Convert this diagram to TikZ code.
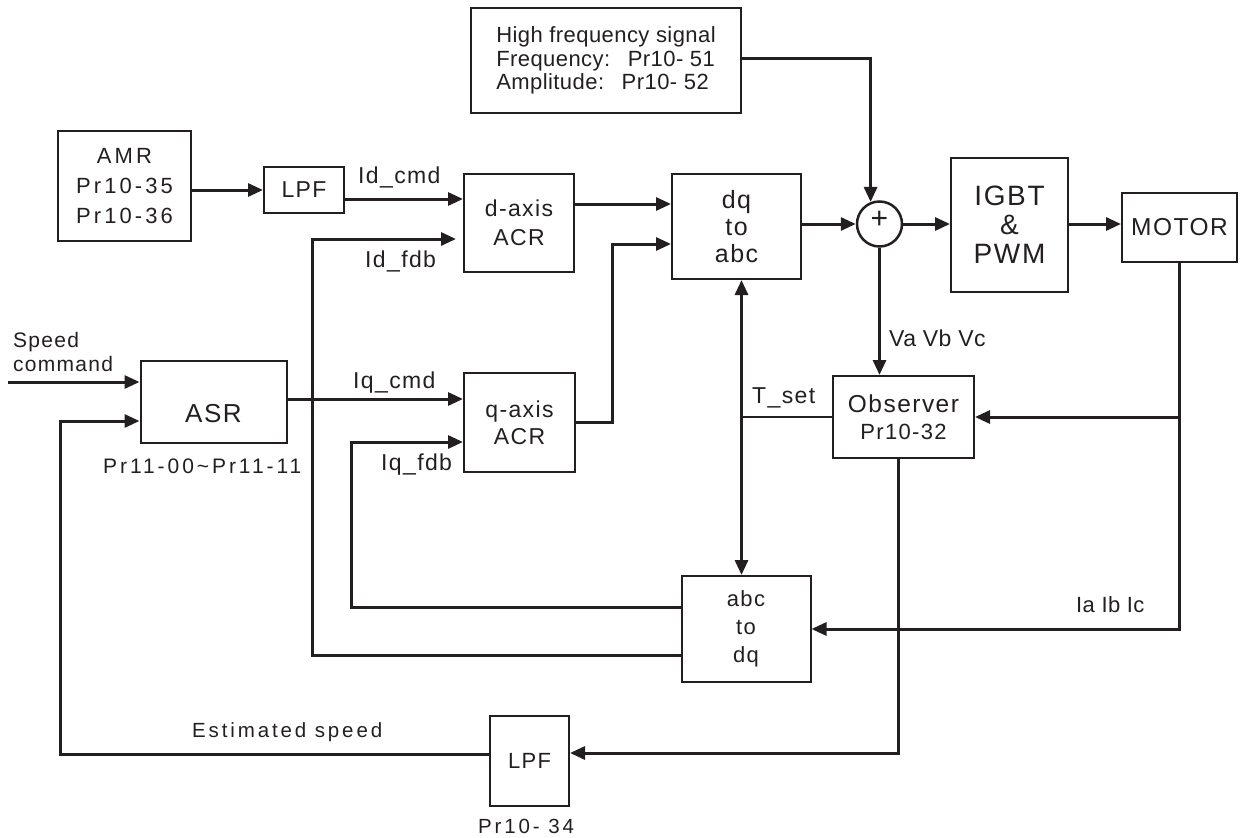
\documentclass[tikz,border=0pt]{standalone}
\usepackage{fontspec}
\setmainfont{Liberation Sans}[LetterSpace=6]
\newfontfamily\widefont{Liberation Sans}[LetterSpace=14]
\newfontfamily\tightfont{Liberation Sans}[LetterSpace=2]
\usetikzlibrary{arrows.meta}
\definecolor{ink}{HTML}{231F20}
\newcommand{\fsz}[2]{\fontsize{#1}{#2}\selectfont}
\begin{document}
\begin{tikzpicture}[x=1pt,y=-1pt,
  box/.style={draw=ink, line width=2pt, inner sep=0pt, align=center, text=ink},
  conn/.style={draw=ink, line width=3pt, -{Triangle[length=15pt,width=13pt]}},
  both/.style={draw=ink, line width=3pt, {Triangle[length=15pt,width=13pt]}-{Triangle[length=15pt,width=13pt]}},
  plain/.style={draw=ink, line width=2.5pt},
  lbl/.style={anchor=base west, inner sep=0pt, text=ink, font=\fsz{22}{26}}]
\useasboundingbox (0,0) rectangle (1243,838);

% blocks
\node[box, minimum width=133pt, minimum height=110pt, font=\widefont\fsz{22}{30}] (amr) at (124.5,186) {AMR\\Pr10-35\\Pr10-36};
\node[box, minimum width=80pt, minimum height=46pt, font=\fsz{23}{27}] (lpf1) at (304,190) {LPF};
\node[box, minimum width=270pt, minimum height=105pt, font=\tightfont\fsz{22}{23.5}, align=left] (hf) at (606,60.5) {High frequency signal\\Frequency:\hspace{0.8em}Pr10- 51\\Amplitude:\hspace{0.8em}Pr10- 52};
\node[box, minimum width=110pt, minimum height=98pt, font=\fsz{23}{29}] (dax) at (519,223) {d-axis\\ACR};
\node[box, minimum width=129pt, minimum height=105pt, font=\fsz{25}{27}] (dq) at (736.5,226.5) {dq\\to\\abc};
\node[circle, draw=ink, line width=2.5pt, minimum size=45pt, inner sep=0pt, text=ink, font=\fsz{30}{30}] (sum) at (879.5,224) {\raisebox{-4pt}[0pt][0pt]{+}};
\node[box, minimum width=117pt, minimum height=134pt, font=\fsz{28}{29}] (igbt) at (1009.5,225) {IGBT\\\&\\PWM};
\node[box, minimum width=115pt, minimum height=69pt, font=\fsz{24.5}{28}] (motor) at (1179.5,227.5) {MOTOR};
\node[box, minimum width=146pt, minimum height=82pt, font=\fsz{26}{28}] (asr) at (213.5,402) {\raisebox{-20.5pt}[0pt][0pt]{ASR}};
\node[box, minimum width=111pt, minimum height=99pt, font=\fsz{23}{27}] (qax) at (519.5,422.5) {q-axis\\ACR};
\node[box, minimum width=141pt, minimum height=82pt, font=\fsz{22}{27}] (obs) at (903.5,417) {{\fontsize{24.5}{27}\selectfont Observer}\\Pr10-32};
\node[box, minimum width=129pt, minimum height=106pt, font=\fsz{22}{28}] (abc) at (746,629) {abc\\to\\dq};
\node[box, minimum width=79pt, minimum height=90pt, font=\fsz{22}{26}] (lpf2) at (529.5,761) {LPF};

% labels
\node[lbl, font=\fsz{23}{26}] (lidcmd) at (358,183) {Id\_cmd};
\node[lbl, font=\fsz{23}{26}] (lidfdb) at (365,267) {Id\_fdb};
\node[lbl, font=\fsz{23}{26}] (liqcmd) at (353,388) {Iq\_cmd};
\node[lbl, font=\fsz{23}{26}] (liqfdb) at (381,470) {Iq\_fdb};
\node[lbl, font=\fsz{21}{24}] (lspeed) at (13,347) {Speed};
\node[lbl, font=\fsz{21}{24}] (lcmd) at (13,371) {command};
\node[lbl, font=\widefont\fsz{21}{24}] (lasr) at (103,473) {Pr11-00\textasciitilde Pr11-11};
\node[lbl, font=\fsz{23}{26}] (ltset) at (752,403) {T\_set};
\node[lbl, font=\tightfont\fsz{23}{26}] (lv) at (889,346) {Va Vb Vc};
\node[lbl, font=\tightfont\fsz{22}{26}] (li) at (1076,612) {Ia Ib Ic};
\node[lbl, font=\widefont\fsz{20.5}{24}] (lest) at (192,737) {Estimated speed};
\node[lbl, font=\widefont\fsz{20.5}{24}] (llpf) at (478,833) {Pr10- 34};

% helper coordinates
\coordinate (tx) at (741.5,417);
\coordinate (fbx) at (312,239);
\coordinate (fqx) at (351,442);
\coordinate (qx) at (612,244);
\coordinate (ex) at (60,421);
\coordinate (sc) at (8,382);
\coordinate (c1) at ([yshift=-9pt]lpf1.east);
\coordinate (c2) at ([yshift=19pt]dax.east);
\coordinate (c3) at ([yshift=3pt]asr.east);
\coordinate (mx) at (motor.south |- obs.east);

% connectors
\draw[conn] (amr.east |- lpf1.west) -- (lpf1.west);
\draw[conn] (c1) -- (c1 -| dax.west);
\draw[conn, shorten >=7pt] ([yshift=-26pt]abc.west) -| (fbx) -- (fbx -| dax.west);
\draw[conn] (c2) -- (c2 -| dq.west);
\draw[conn] (qax.east) -| (qx) -- (qx -| dq.west);
\draw[conn] (dq.east |- sum.west) -- (sum.west);
\draw[conn] ([yshift=2.5pt]hf.east) -| (sum.112);
\draw[conn] (sum.east) -- (sum.east -| igbt.west);
\draw[conn] (sum.east -| igbt.east) -- (sum.east -| motor.west);
\draw[conn] (sum.south) -- (sum.south |- obs.north);
\draw[conn] (motor.south) |- (abc.east);
\draw[conn] (mx) -- (obs.east);
\draw[plain] (obs.west) -- (tx);
\draw[both] (tx |- dq.south) -- (tx |- abc.north);
\draw[conn] ([xshift=-5.5pt]obs.south) |- ([yshift=8pt]lpf2.east);
\draw[conn] ([yshift=7pt]lpf2.west) -| (ex) -- (ex -| asr.west);
\draw[conn] (sc) -- (sc -| asr.west);
\draw[conn] (c3) -- (c3 -| qax.west);
\draw[conn] ([yshift=22pt]abc.west) -| (fqx) -- (fqx -| qax.west);
\end{tikzpicture}
\end{document}
